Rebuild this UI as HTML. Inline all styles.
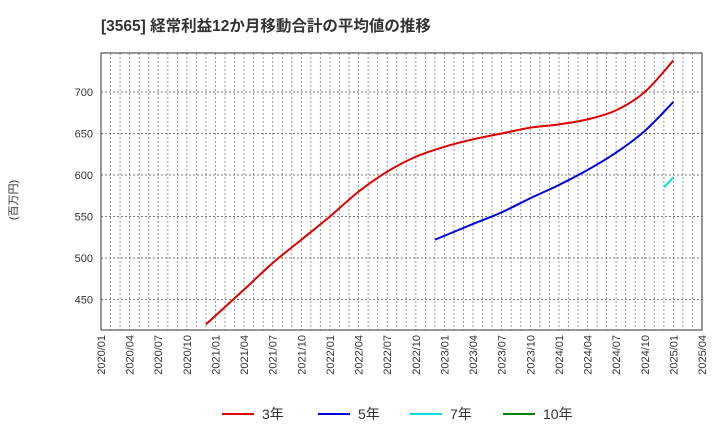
<!DOCTYPE html>
<html><head><meta charset="utf-8"><style>
body{margin:0;background:#fff;}
svg{font-family:"Liberation Sans","Noto Sans CJK JP",sans-serif;}
</style></head><body>
<svg id="c" width="720" height="440">
<text x="101" y="31" font-size="15.5" font-weight="bold" fill="#333">[3565]  経常利益12か月移動合計の平均値の推移</text>
<text transform="translate(17,200) rotate(-90)" text-anchor="middle" font-size="11" fill="#333">(百万円)</text>
<g id="grid"></g><g id="axes"></g><g id="series"></g><g id="legend"></g>
</svg>
<script>
const yTicks=[450,500,550,600,650,700];
const xTickLabels=["2020/01","2020/04","2020/07","2020/10","2021/01","2021/04","2021/07","2021/10","2022/01","2022/04","2022/07","2022/10","2023/01","2023/04","2023/07","2023/10","2024/01","2024/04","2024/07","2024/10","2025/01","2025/04"];
const m3=[11,15,18,21,24,27,30,33,36,39,42,45,48,51,54,57,60];
const v3=[420,462,494,522,550,580,604,622,634,643,650,657,661,667,678,700,738];
const m5=[35,39,42,45,48,51,54,57,60];
const v5=[522,541,555,572,588,606,627,653,688];
const m7=[59,60];
const v7=[585,597];
const m10=[];const v10=[];
const L=101,R=702,T=53,B=330;
const X=m=>L+m*(R-L)/63;
const Y=v=>92+(700-v)*41.5/50;
const ns="http://www.w3.org/2000/svg";
function mk(t,a,p){const e=document.createElementNS(ns,t);for(const k in a)e.setAttribute(k,a[k]);p.appendChild(e);return e;}
const g=document.getElementById('grid'),ax=document.getElementById('axes'),sg=document.getElementById('series'),lg=document.getElementById('legend');
for(let m=1;m<63;m++){const l=mk('line',{x1:X(m),x2:X(m),y1:T,y2:B,stroke:'#999','stroke-dasharray':'2,2','stroke-width':1},g);
}
yTicks.forEach(v=>{const l=mk('line',{x1:L,x2:R,y1:Y(v),y2:Y(v),stroke:'#777','stroke-dasharray':'2,2'},g);

const t=mk('text',{x:L-8,y:Y(v)+4,'text-anchor':'end','font-size':11,fill:'#333'},ax);t.textContent=v;
});
xTickLabels.forEach((s,i)=>{const x=X(i*3);const t=mk('text',{transform:`translate(${x+4},${B+5}) rotate(-90)`,'text-anchor':'end','font-size':11,fill:'#333'},ax);t.textContent=s;
});
const fr=mk('rect',{x:L,y:T,width:R-L,height:B-T,fill:'none',stroke:'#333'},ax);

function line(ms,vs,c,n){if(!ms.length)return;
const P=ms.map((m,i)=>[X(m),Y(vs[i])]);
let d='M'+P[0][0]+','+P[0][1];
for(let i=0;i<P.length-1;i++){const p0=P[Math.max(0,i-1)],p1=P[i],p2=P[i+1],p3=P[Math.min(P.length-1,i+2)];
const c1=[p1[0]+(p2[0]-p0[0])/6,p1[1]+(p2[1]-p0[1])/6],c2=[p2[0]-(p3[0]-p1[0])/6,p2[1]-(p3[1]-p1[1])/6];
d+=` C${c1[0]},${c1[1]} ${c2[0]},${c2[1]} ${p2[0]},${p2[1]}`;}
const p=mk('path',{d:d,fill:'none',stroke:c,'stroke-width':2,'stroke-linejoin':'round'},sg);
}
line(m3,v3,'#e00000','series-3y');line(m5,v5,'#0000e0','series-5y');line(m7,v7,'#00e0e0','series-7y');line(m10,v10,'#008000','series-10y');
[['3年','#e00000',222],['5年','#0000e0',318],['7年','#00e0e0',410],['10年','#008000',503]].forEach(([s,c,x])=>{
const gg=mk('g',{},lg);
mk('line',{x1:x,x2:x+32,y1:414,y2:414,stroke:c,'stroke-width':2},gg);
const t=mk('text',{x:x+40,y:419,'font-size':14,fill:'#333'},gg);t.textContent=s;});
</script>
</body></html>
